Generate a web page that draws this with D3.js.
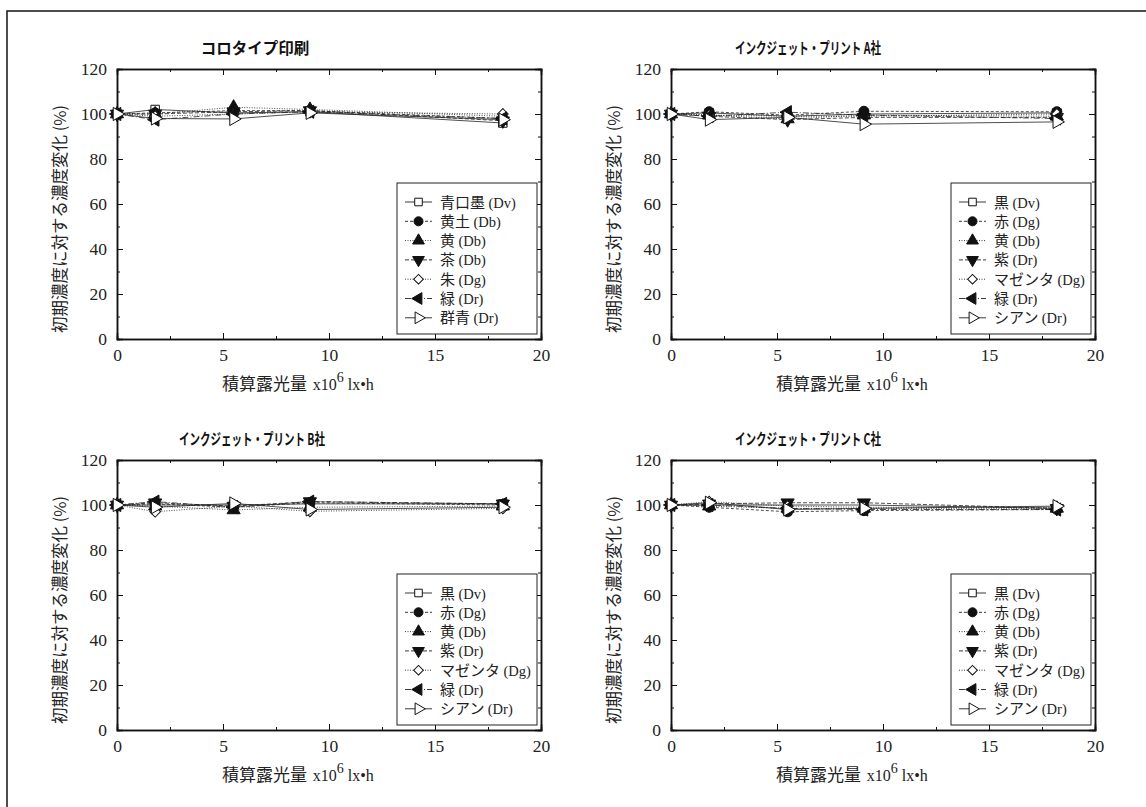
<!DOCTYPE html>
<html>
<head>
<meta charset="utf-8">
<script src="https://cdn.jsdelivr.net/npm/d3@7"></script>
<style>
  html, body { margin: 0; padding: 0; background: #fff; }
  svg { display: block; }
</style>
</head>
<body>
<svg id="chart" width="1146" height="807"></svg>
<script>
// ---------------- DATA ----------------
const xValues = [0, 1.8, 5.5, 9.1, 18.2];

const panelTitles = ["コロタイプ印刷", "インクジェット・プリント A社", "インクジェット・プリント B社", "インクジェット・プリント C社"];

const colotypeNames = ["青口墨", "黄土", "黄", "茶", "朱", "緑", "群青"];
const colotypeCodes = ["Dv", "Db", "Db", "Db", "Dg", "Dr", "Dr"];
const inkjetNames = ["黒", "赤", "黄", "紫", "マゼンタ", "緑", "シアン"];
const inkjetCodes = ["Dv", "Dg", "Db", "Dr", "Dg", "Dr", "Dr"];

const colotypeValues = [
  [100, 102.0, 100.5, 101.0, 96.0],
  [100, 100.5, 101.5, 101.5, 98.0],
  [100, 100.0, 103.0, 102.0, 99.0],
  [100, 100.0, 101.0, 101.5, 97.0],
  [100, 99.0, 100.0, 101.0, 100.0],
  [100, 97.5, 100.0, 101.0, 98.0],
  [100, 98.0, 97.8, 100.5, 97.5]
];
const inkjetAValues = [
  [100, 100.5, 99.0, 100.0, 100.5],
  [100, 101.0, 99.5, 101.2, 101.0],
  [100, 99.5, 97.8, 99.5, 99.0],
  [100, 99.0, 97.5, 98.5, 98.5],
  [100, 99.5, 99.0, 99.0, 100.0],
  [100, 99.0, 100.8, 99.5, 98.0],
  [100, 97.5, 98.5, 95.5, 96.5]
];
const inkjetBValues = [
  [100, 100.0, 100.0, 100.5, 100.5],
  [100, 100.5, 99.0, 101.0, 100.0],
  [100, 99.5, 97.8, 99.0, 99.5],
  [100, 101.0, 99.5, 101.5, 100.5],
  [100, 97.0, 99.5, 97.2, 98.5],
  [100, 101.5, 99.0, 101.5, 100.5],
  [100, 99.0, 100.7, 98.0, 99.0]
];
const inkjetCValues = [
  [100, 100.0, 100.0, 100.0, 98.5],
  [100, 99.0, 97.0, 97.5, 98.0],
  [100, 99.5, 98.5, 98.5, 98.5],
  [100, 100.5, 101.0, 101.0, 98.5],
  [100, 101.5, 99.5, 99.0, 99.0],
  [100, 100.0, 98.5, 98.0, 98.0],
  [100, 101.0, 98.0, 98.5, 99.5]
];

const xTicks = [0, 5, 10, 15, 20];
const xMinorTicks = [2.5, 7.5, 12.5, 17.5];
const yTicks = [0, 20, 40, 60, 80, 100, 120];
const yMinorTicks = [10, 30, 50, 70, 90, 110];

// ---------------- STYLE ----------------
const svg = d3.select("#chart");
const serif = "'Liberation Serif', 'DejaVu Serif', serif";
const gothic = "'Noto Sans CJK JP', 'Noto Sans', sans-serif";

const dashes = [null, "3,2", "1,1.5", "4,2", "1,1.5", "6,2,1,2", null];
const markerDefs = [
  { type: d3.symbolSquare, size: 72, rot: 0, fill: "#fff" },
  { type: d3.symbolCircle, size: 80, rot: 0, fill: "#111" },
  { type: d3.symbolTriangle, size: 75, rot: 0, fill: "#111" },
  { type: d3.symbolTriangle, size: 75, rot: 180, fill: "#111" },
  { type: d3.symbolSquare, size: 58, rot: 45, fill: "#fff" },
  { type: d3.symbolTriangle, size: 75, rot: -90, fill: "#111" },
  { type: d3.symbolTriangle, size: 75, rot: 90, fill: "#fff" }
];

// outer frame (only top/left visible in the reference)
svg.append("rect").attr("x", 7).attr("y", 11).attr("width", 1300).attr("height", 1000)
  .attr("fill", "none").attr("stroke", "#222").attr("stroke-width", 1.6);

const panels = [
  { left: 117, top: 69, title: panelTitles[0], titleX: 255, titleLen: null, names: colotypeNames, codes: colotypeCodes, values: colotypeValues },
  { left: 671, top: 69, title: panelTitles[1], titleX: 808, titleLen: 146, names: inkjetNames, codes: inkjetCodes, values: inkjetAValues },
  { left: 117, top: 460, title: panelTitles[2], titleX: 252, titleLen: 146, names: inkjetNames, codes: inkjetCodes, values: inkjetBValues },
  { left: 671, top: 460, title: panelTitles[3], titleX: 808, titleLen: 146, names: inkjetNames, codes: inkjetCodes, values: inkjetCValues }
];

const W = 424, H = 270;

panels.forEach(p => {
  const g = svg.append("g").attr("transform", `translate(${p.left},${p.top})`);
  const x = d3.scaleLinear().domain([0, 20]).range([0, W]);
  const y = d3.scaleLinear().domain([0, 120]).range([H, 0]);

  const styleAxis = sel => {
    sel.select(".domain").attr("stroke", "#111").attr("stroke-width", 1.5);
    sel.selectAll(".tick line").attr("stroke", "#111").attr("stroke-width", 1);
    sel.selectAll(".tick text").attr("font-family", serif).attr("font-size", 17.5).attr("fill", "#222");
  };
  g.append("g").attr("transform", `translate(0,${H})`)
    .call(d3.axisBottom(x).tickValues(xTicks).tickSize(-6).tickPadding(10).tickFormat(d3.format("d")))
    .call(styleAxis);
  g.append("g").attr("transform", `translate(0,${H})`)
    .call(d3.axisBottom(x).tickValues(xMinorTicks).tickSize(-3).tickFormat(""))
    .call(styleAxis);
  g.append("g")
    .call(d3.axisTop(x).tickValues(xTicks).tickSize(-6).tickFormat(""))
    .call(styleAxis);
  g.append("g")
    .call(d3.axisTop(x).tickValues(xMinorTicks).tickSize(-3).tickFormat(""))
    .call(styleAxis);
  g.append("g")
    .call(d3.axisLeft(y).tickValues(yTicks).tickSize(-6).tickPadding(10).tickFormat(d3.format("d")))
    .call(styleAxis);
  g.append("g")
    .call(d3.axisLeft(y).tickValues(yMinorTicks).tickSize(-3).tickFormat(""))
    .call(styleAxis);
  g.append("g").attr("transform", `translate(${W},0)`)
    .call(d3.axisRight(y).tickValues(yTicks).tickSize(-6).tickFormat(""))
    .call(styleAxis);
  g.append("g").attr("transform", `translate(${W},0)`)
    .call(d3.axisRight(y).tickValues(yMinorTicks).tickSize(-3).tickFormat(""))
    .call(styleAxis);

  // title
  const t = svg.append("text").attr("x", p.titleX).attr("y", p.top - 15)
    .attr("text-anchor", "middle").attr("font-family", gothic).attr("font-weight", "bold")
    .attr("font-size", 15.5).attr("fill", "#111").text(p.title);
  if (p.titleLen) t.attr("textLength", p.titleLen).attr("lengthAdjust", "spacingAndGlyphs");

  // y axis title
  svg.append("text")
    .attr("transform", `translate(${p.left - 51},${p.top + 150}) rotate(-90)`)
    .attr("text-anchor", "middle").attr("font-family", gothic).attr("font-size", 16.5).attr("fill", "#222")
    .text("初期濃度に対する濃度変化 (%)");

  // x axis title
  const xt = svg.append("text").attr("x", p.left + 105).attr("y", p.top + H + 51)
    .attr("font-family", gothic).attr("font-size", 17).attr("fill", "#222");
  xt.append("tspan").text("積算露光量 ");
  xt.append("tspan").attr("font-family", serif).attr("font-size", 16).attr("dx", 2).text("x10");
  xt.append("tspan").attr("font-family", serif).attr("font-size", 14).attr("dy", -8).text("6");
  xt.append("tspan").attr("font-family", serif).attr("font-size", 16).attr("dy", 8).attr("dx", 4).text("lx•h");

  // series
  const line = d3.line().x((d, i) => x(xValues[i])).y(d => y(d));
  p.values.forEach((vals, si) => {
    g.append("path").datum(vals).attr("d", line)
      .attr("fill", "none").attr("stroke", "#222").attr("stroke-width", 0.8)
      .attr("stroke-dasharray", dashes[si]);
  });
  p.values.forEach((vals, si) => {
    const m = markerDefs[si];
    g.selectAll(null).data(vals).enter().append("path")
      .attr("d", d3.symbol().type(m.type).size(m.size))
      .attr("transform", (d, i) => `translate(${x(xValues[i])},${y(d)}) rotate(${m.rot})`)
      .attr("fill", m.fill).attr("stroke", "#111").attr("stroke-width", 1);
  });

  // legend
  const lg = g.append("g").attr("transform", `translate(${W - 144},${114})`);
  lg.append("rect").attr("x", 0).attr("y", 0).attr("width", 140).attr("height", 151)
    .attr("fill", "#fff").attr("stroke", "#222").attr("stroke-width", 1);
  p.names.forEach((name, si) => {
    const yy = 19 + si * 19.3;
    const m = markerDefs[si];
    lg.append("line").attr("x1", 8).attr("x2", 35).attr("y1", yy).attr("y2", yy)
      .attr("stroke", "#222").attr("stroke-width", 0.9).attr("stroke-dasharray", dashes[si]);
    lg.append("path").attr("d", d3.symbol().type(m.type).size(m.size * 0.8))
      .attr("transform", `translate(21.5,${yy}) rotate(${m.rot})`)
      .attr("fill", m.fill).attr("stroke", "#111").attr("stroke-width", 1);
    const tx = lg.append("text").attr("x", 43).attr("y", yy + 5.5)
      .attr("font-family", gothic).attr("font-size", 15).attr("fill", "#222");
    tx.append("tspan").text(name + " ");
    tx.append("tspan").attr("font-family", serif).attr("font-size", 14.5).text(`(${p.codes[si]})`);
  });
});
</script>
</body>
</html>
